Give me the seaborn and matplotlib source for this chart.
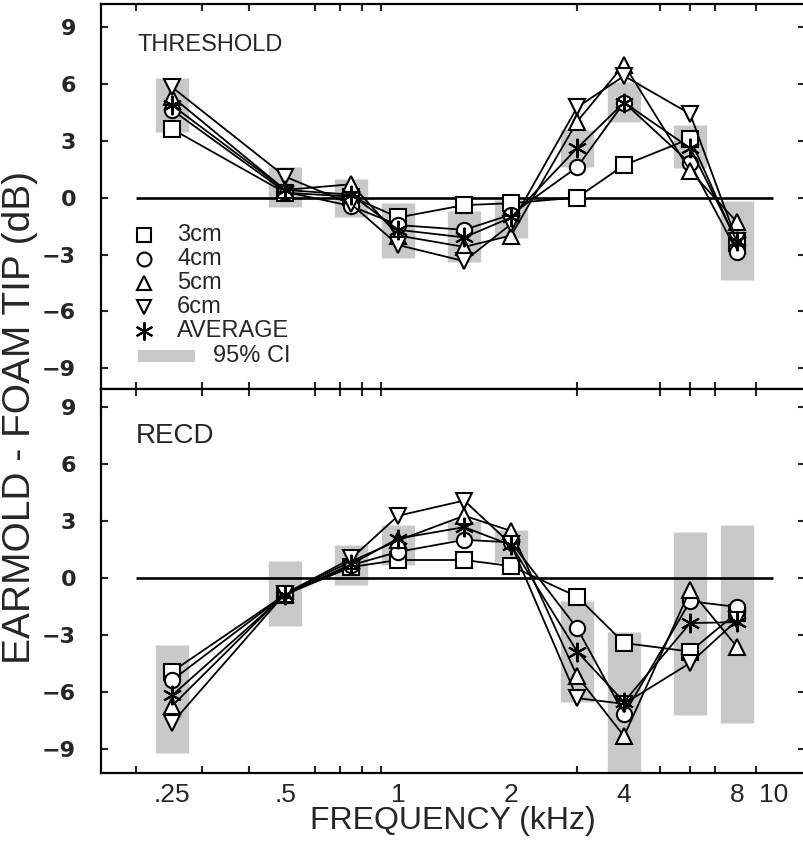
import numpy as np
import matplotlib
matplotlib.use("Agg")
import matplotlib.pyplot as plt
import seaborn as sns
from matplotlib.ticker import FixedLocator, NullFormatter, FixedFormatter
from matplotlib.patches import Rectangle

# ---------------- data ----------------
freqs = [0.25, 0.5, 0.75, 1, 1.5, 2, 3, 4, 6, 8]
series_names = ["3cm", "4cm", "5cm", "6cm", "AVERAGE"]

thr_3cm = [3.6, 0.25, 0.05, -1.05, -0.4, -0.3, 0.0, 1.7, 3.1, -2.4]
thr_4cm = [4.6, 0.3, -0.45, -1.45, -1.7, -0.9, 1.6, 5.0, 1.8, -2.85]
thr_5cm = [5.3, 0.4, 0.7, -2.0, -2.6, -2.0, 4.0, 7.0, 1.4, -1.3]
thr_6cm = [5.8, 1.1, -0.35, -2.5, -3.35, -1.4, 4.75, 6.4, 4.4, -2.3]
thr_avg = [4.85, 0.4, 0.15, -1.7, -2.1, -1.05, 2.6, 5.0, 2.6, -2.3]
thr_ci_lo = [3.45, -0.5, -1.0, -3.2, -3.4, -2.15, 1.6, 4.0, 1.55, -4.35]
thr_ci_hi = [6.3, 1.6, 0.95, -0.3, -0.7, -0.15, 3.55, 6.1, 3.8, -0.2]

recd_3cm = [-4.9, -0.85, 0.6, 0.97, 0.97, 0.65, -0.96, -3.4, -3.85, -1.8]
recd_4cm = [-5.35, -0.85, 0.7, 1.4, 2.03, 1.9, -2.62, -7.15, -1.2, -1.5]
recd_5cm = [-6.7, -0.8, 0.9, 2.0, 3.3, 2.5, -5.15, -8.3, -0.6, -3.6]
recd_6cm = [-7.6, -0.8, 1.05, 3.3, 4.1, 1.8, -6.3, -6.6, -4.45, -2.2]
recd_avg = [-6.15, -0.85, 0.75, 2.1, 2.7, 1.75, -3.85, -6.5, -2.35, -2.3]
recd_ci_lo = [-9.2, -2.5, -0.35, 0.7, 2.0, 0.85, -6.5, -10.6, -7.2, -7.6]
recd_ci_hi = [-3.5, 0.9, 1.75, 2.8, 3.0, 2.55, -1.2, -2.8, 2.45, 2.8]

xtick_vals = [0.25, 0.5, 1, 2, 4, 8, 10]
xtick_labels = [".25", ".5", "1", "2", "4", "8", "10"]
minor_ticks = [0.2, 0.3, 0.4, 0.5, 0.6, 0.7, 0.8, 0.9, 1, 2, 3, 4, 5, 6, 7, 8, 9, 10]
ytick_vals = [-9, -6, -3, 0, 3, 6, 9]
ytick_labels = ["\u22129", "\u22126", "\u22123", "0", "3", "6", "9"]
panel_titles = ["THRESHOLD", "RECD"]

# ---------------- style ----------------
sns.set_theme(style="white")
plt.rcParams["font.family"] = ["DejaVu Sans"]
LIB = ["Liberation Sans", "DejaVu Sans"]

W, H = 804, 843
fig = plt.figure(figsize=(W / 100, H / 100), dpi=100)

def px_box(x0, y0, x1, y1):
    return [x0 / W, 1 - y1 / H, (x1 - x0) / W, (y1 - y0) / H]

ax_top = fig.add_axes(px_box(101, 4.5, 805, 389))
ax_bot = fig.add_axes(px_box(101, 389, 805, 773))

markers = ["s", "o", "^", "v", (6, 2, 0)]
msizes = [11, 11, 11, 11, 14]

panels = [
    (ax_top, [thr_3cm, thr_4cm, thr_5cm, thr_6cm, thr_avg], thr_ci_lo, thr_ci_hi, (-10.08, 10.16)),
    (ax_bot, [recd_3cm, recd_4cm, recd_5cm, recd_6cm, recd_avg], recd_ci_lo, recd_ci_hi, (-10.24, 9.97)),
]

for i, (ax, data, lo, hi, ylim) in enumerate(panels):
    ax.set_xscale("log")
    ax.set_xlim(0.1615, 12.14)
    ax.set_ylim(*ylim)
    # 95% CI bars
    ax.vlines(freqs, lo, hi, color="#c8c8c8", lw=24, zorder=1, capstyle="butt")
    # zero reference line
    ax.hlines(0, 0.2, 10, color="black", lw=1.9, zorder=2)
    for name, vals, m, ms in zip(series_names, data, markers, msizes):
        sns.lineplot(x=freqs, y=vals, ax=ax, color="black", lw=1.3,
                     marker=m, markersize=ms, markerfacecolor="white",
                     markeredgecolor="black", markeredgewidth=1.5,
                     zorder=3, legend=False)
    ax.xaxis.set_major_locator(FixedLocator(xtick_vals))
    ax.xaxis.set_minor_locator(FixedLocator(minor_ticks))
    ax.xaxis.set_minor_formatter(NullFormatter())
    ax.yaxis.set_major_locator(FixedLocator(ytick_vals))
    ax.yaxis.set_major_formatter(FixedFormatter(ytick_labels))
    ax.tick_params(axis="x", which="major", length=0, direction="in", pad=7,
                   top=False, bottom=True)
    ax.tick_params(axis="x", which="minor", length=5, width=1.5, direction="in",
                   top=True, bottom=True)
    ax.tick_params(axis="y", which="major", length=5, width=1.5, direction="in",
                   left=True, right=True, pad=18)
    for lab in ax.get_yticklabels():
        lab.set_fontsize(16)
        lab.set_fontweight("bold")
    if i == 0:
        ax.set_xticklabels([])
    else:
        ax.xaxis.set_major_formatter(FixedFormatter(xtick_labels))
        for lab in ax.get_xticklabels():
            lab.set_fontsize(19)
            lab.set_fontfamily(LIB)
    for side in ["left", "bottom", "top"]:
        ax.spines[side].set_linewidth(1.6)
        ax.spines[side].set_color("black")
    ax.spines["right"].set_visible(False)
    ax.set_xlabel("")
    ax.set_ylabel("")

ax_top.text((137 - 101) / 704, (389 - 45) / 384.5, panel_titles[0],
            transform=ax_top.transAxes, fontsize=17, ha="left", va="center", fontfamily=LIB)
ax_bot.text((136 - 101) / 704, (773 - 436) / 384, panel_titles[1],
            transform=ax_bot.transAxes, fontsize=20, ha="left", va="center", fontfamily=LIB)

# ---------------- legend (manual, in top panel) ----------------
def ax_xy(px, py):
    return ((px - 101) / 704, (389 - py) / 384.5)

for k, (name, m, ms) in enumerate(zip(series_names, markers, msizes)):
    py = 235 + 24 * k
    xm, ym = ax_xy(144, py)
    ax_top.plot([xm], [ym], transform=ax_top.transAxes, marker=m, markersize=ms - 1,
                markerfacecolor="white", markeredgecolor="black", markeredgewidth=1.5,
                linestyle="none", zorder=5)
    xt, yt = ax_xy(177, py)
    ax_top.text(xt, yt, name, transform=ax_top.transAxes, fontsize=17,
                ha="left", va="center", fontfamily=LIB)
x0, y0 = ax_xy(138, 362)
x1, y1 = ax_xy(195, 350)
ax_top.add_patch(Rectangle((x0, y0), x1 - x0, y1 - y0, transform=ax_top.transAxes,
                           facecolor="#c8c8c8", edgecolor="none", zorder=5))
xt, yt = ax_xy(213, 356)
ax_top.text(xt, yt, "95% CI", transform=ax_top.transAxes, fontsize=17,
            ha="left", va="center", fontfamily=LIB)

# ---------------- axis labels ----------------
fig.text(453 / W, 1 - 821 / H, "FREQUENCY (kHz)", fontsize=23, ha="center", va="center",
         fontfamily=LIB)
fig.text(20 / W, 1 - 417 / H, "EARMOLD - FOAM TIP (dB)", fontsize=28, ha="center",
         va="center", rotation=90, fontfamily=LIB)

fig.savefig("out.png", dpi=100)
